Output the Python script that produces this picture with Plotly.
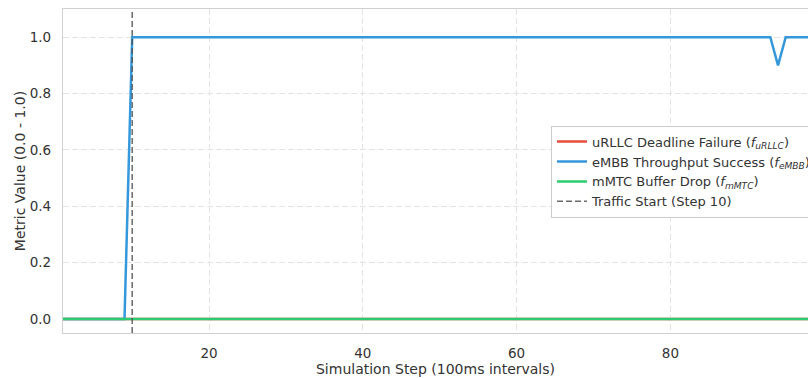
import plotly.graph_objects as go

steps = list(range(1, 101))
urllc_fail = [0.0] * 100
embb_success = [0.0] * 9 + [1.0] * 84 + [0.9] + [1.0] * 6
mmtc_drop = [0.0] * 100
traffic_start = 10

x_range = [1, 97.9]
y_range = [-0.05, 1.1]

fig = go.Figure()
fig.add_trace(go.Scatter(x=steps, y=urllc_fail, mode="lines",
                         line=dict(color="#e74c3c", width=2.5),
                         name="uRLLC Deadline Failure (<i>f</i><sub><i>uRLLC</i></sub>)"))
fig.add_trace(go.Scatter(x=steps, y=embb_success, mode="lines",
                         line=dict(color="#3498db", width=2.5),
                         name="eMBB Throughput Success (<i>f</i><sub><i>eMBB</i></sub>)"))
fig.add_trace(go.Scatter(x=steps, y=mmtc_drop, mode="lines",
                         line=dict(color="#2ecc71", width=2.5),
                         name="mMTC Buffer Drop (<i>f</i><sub><i>mMTC</i></sub>)"))
fig.add_trace(go.Scatter(x=[traffic_start, traffic_start], y=y_range, mode="lines",
                         line=dict(color="rgba(80,80,80,0.85)", width=1.5, dash="6px,3px"),
                         name=f"Traffic Start (Step {traffic_start})"))

axis_common = dict(
    showgrid=True, gridcolor="#e3e3e3", griddash="6px,3px", gridwidth=1,
    zeroline=False, showline=True, linecolor="#d0d0d0", linewidth=1.3,
    ticks="outside", ticklen=8, tickcolor="rgba(0,0,0,0)",
    tickfont=dict(size=13.5, color="#333"),
)

fig.update_xaxes(range=x_range, dtick=20, tick0=0, mirror=True,
                 title=dict(text="Simulation Step (100ms intervals)", font=dict(size=14, color="#333"), standoff=2),
                 **axis_common)
fig.update_yaxes(range=y_range, dtick=0.2, tick0=0, tickformat=".1f", mirror=False,
                 title=dict(text="Metric Value (0.0 - 1.0)", font=dict(size=14, color="#333"), standoff=0),
                 **axis_common)

fig.update_layout(
    width=808, height=378,
    margin=dict(l=63, r=0, t=9, b=45, autoexpand=False),
    paper_bgcolor="white", plot_bgcolor="white",
    font=dict(family="DejaVu Sans", color="#333"),
    showlegend=True,
    legend=dict(x=0.655, y=0.64, xanchor="left", yanchor="top",
                bgcolor="rgba(255,255,255,0.9)", bordercolor="#cccccc", borderwidth=1,
                font=dict(size=13, color="#333"), itemwidth=30, tracegroupgap=0),
)

fig.write_html("out.html",
               config={"displayModeBar": False, "responsive": False},
               default_width="808px", default_height="378px",
               post_script="document.body.style.margin='0px';document.body.style.overflow='hidden';")
